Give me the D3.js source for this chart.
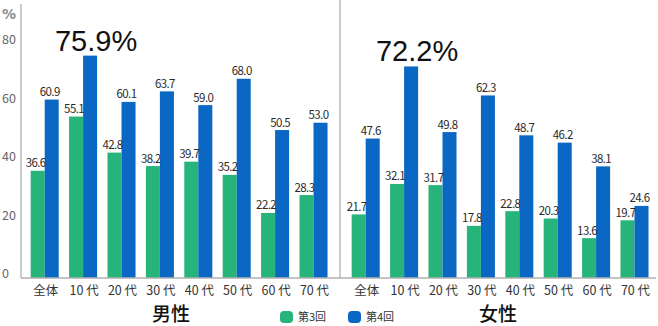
<!DOCTYPE html>
<html><head><meta charset="utf-8">
<script src="https://cdn.jsdelivr.net/npm/d3@7"></script>
<style>body{margin:0;background:#fff}svg{display:block}</style>
</head><body>
<svg id="c" width="658" height="326"></svg>
<script>
const categories = ["全体","10代","20代","30代","40代","50代","60代","70代"];
const tickLabels = ["全体","10 代","20 代","30 代","40 代","50 代","60 代","70 代"];
const male3 = [36.6,55.1,42.8,38.2,39.7,35.2,22.2,28.3];
const male4 = [60.9,75.9,60.1,63.7,59.0,68.0,50.5,53.0];
const female3 = [21.7,32.1,31.7,17.8,22.8,20.3,13.6,19.7];
const female4 = [47.6,72.2,49.8,62.3,48.7,46.2,38.1,24.6];
const yTicks = [0,20,40,60,80];
const seriesNames = ["第3回","第4回"];
const panelNames = ["男性","女性"];
const highlight = {male:"75.9%", female:"72.2%"};

const colors = ["#27b47b","#0a67c4"];
const svg = d3.select("#c");
const font = "'Noto Sans CJK JP','Noto Sans',sans-serif";
const y = d3.scaleLinear().domain([0,80]).range([278,43.6]);

const panels = [
  {name:panelNames[0], s3:male3, s4:male4, range:[25.5,332.7], big:highlight.male, titleX:171},
  {name:panelNames[1], s3:female3, s4:female4, range:[346.5,653.7], big:highlight.female, titleX:498}
];

// axis lines
svg.append("line").attr("x1",21).attr("x2",21).attr("y1",4).attr("y2",278).attr("stroke","#b0b0b0").attr("stroke-width",1.3);
svg.append("line").attr("x1",340).attr("x2",340).attr("y1",0).attr("y2",278).attr("stroke","#b0b0b0").attr("stroke-width",1.3);

// y tick labels
svg.append("g").selectAll("text").data(yTicks).join("text")
  .attr("x",2).attr("y",d=>y(d)-4).attr("dy","0.35em")
  .attr("font-family",font).attr("font-size",12.5).attr("fill","#666").text(d=>d);
svg.append("text").attr("x",2).attr("y",19).attr("font-family","'DejaVu Sans',sans-serif")
  .attr("font-weight","bold").attr("font-size",14).attr("fill","#8a8a8a").text("%");

panels.forEach(p=>{
  const x = d3.scaleBand().domain(categories).range(p.range).paddingInner(0.27).paddingOuter(0.135);
  const xs = d3.scaleBand().domain(seriesNames).range([0,x.bandwidth()]);
  const g = svg.append("g");
  const rows = categories.map((c,i)=>({c, i, vals:[p.s3[i], p.s4[i]]}));
  rows.forEach(r=>{
    r.vals.forEach((v,k)=>{
      const bx = x(r.c)+xs(seriesNames[k]);
      g.append("rect").attr("x",bx).attr("y",y(v)).attr("width",xs.bandwidth()).attr("height",y(0)-y(v)).attr("fill",colors[k]);
    });
  });
  rows.forEach(r=>{
    r.vals.forEach((v,k)=>{
      const cx = x(r.c)+xs(seriesNames[k])+xs.bandwidth()/2;
      if(k===1 && r.i===1){
        g.append("text").attr("x",cx+6).attr("y",y(v)-5).attr("text-anchor","middle")
          .attr("font-family","'Liberation Sans',Arial,sans-serif").attr("font-size",29).attr("fill","#111").text(p.big);
      } else {
        g.append("text").attr("x",cx-2).attr("y",y(v)-3.5).attr("text-anchor","middle")
          .attr("font-family",font).attr("font-size",11.5).attr("letter-spacing","-0.6")
          .attr("fill","#2a2a2a").text(v.toFixed(1));
      }
    });
  });
  // x labels
  g.selectAll("text.xl").data(categories).join("text").attr("class","xl")
    .attr("x",d=>x(d)+x.bandwidth()/2+1).attr("y",294.8).attr("text-anchor","middle")
    .attr("font-family",font).attr("font-size",12.5).attr("fill","#333")
    .text((d,i)=>tickLabels[i]);
  g.append("text").attr("x",p.titleX).attr("y",320.6).attr("text-anchor","middle")
    .attr("font-family",font).attr("font-size",19).attr("font-weight",500).attr("fill","#111").text(p.name);
});

// baseline
svg.append("line").attr("x1",21).attr("x2",656).attr("y1",278).attr("y2",278).attr("stroke","#b0b0b0").attr("stroke-width",1.3);

// legend
const legX = [280,348];
seriesNames.forEach((n,k)=>{
  svg.append("rect").attr("x",legX[k]).attr("y",311).attr("width",13).attr("height",12).attr("rx",4).attr("fill",colors[k]);
  svg.append("text").attr("x",legX[k]+18).attr("y",321).attr("font-family",font).attr("font-size",11).attr("fill","#333").text(n);
});
</script>
</body></html>
